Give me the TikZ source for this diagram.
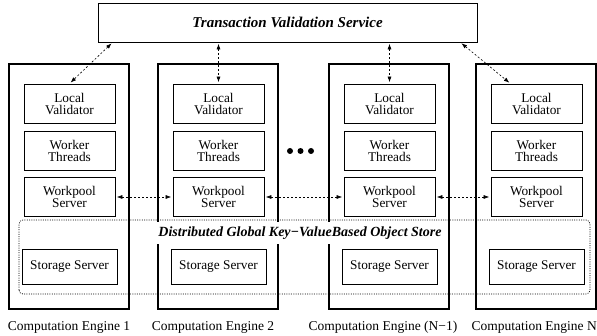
\documentclass[tikz,border=0pt]{standalone}
\usepackage{fontspec}
\setmainfont{Liberation Serif}
\usetikzlibrary{arrows.meta}
\begin{document}
\begin{tikzpicture}[x=1pt,y=1pt,
  engine/.style={draw,line width=1.3pt,minimum width=120pt,minimum height=245pt,inner sep=0pt},
  inbox/.style={draw,line width=0.7pt,minimum width=91pt,minimum height=39pt,inner sep=0pt,align=center,font=\fontsize{13.3}{12}\selectfont},
  stbox/.style={draw,line width=0.7pt,minimum width=95pt,minimum height=35pt,inner sep=0pt,align=center,font=\fontsize{13.3}{12}\selectfont},
  conn/.style={dashed,dash pattern=on 2pt off 2pt,line width=0.6pt,{Latex[length=5.5pt,width=4pt]}-{Latex[length=5.5pt,width=4pt]},shorten <=1.5pt,shorten >=1.5pt},
  caption/.style={font=\fontsize{13.5}{14}\selectfont,inner sep=0pt},
  dot/.style={circle,fill,inner sep=0pt,minimum size=6pt}
]
\useasboundingbox (0,0) rectangle (597,335);
% top service
\node[draw,line width=0.7pt,minimum width=379pt,minimum height=39pt,inner sep=0pt,font=\fontsize{15}{16}\selectfont\bfseries\itshape] (tv) at (287.5,312.5) {Transaction Validation Service};
% engines
\foreach \n/\L in {1/9,2/158,3/329,4/476}{
  \node[engine] (e\n) at (\L+60,148.5) {};
  \node[inbox] (lv\n) at (\L+60.5,231.5) {Local\\Validator};
  \node[inbox] (wt\n) at (\L+60.5,184.5) {Worker\\Threads};
  \node[inbox] (wp\n) at (\L+60.5,138) {Workpool\\Server};
  \node[stbox] (ss\n) at (\L+60.5,68.5) {Storage Server};
}
% object store label and dotted region
\node[fill=white,inner xsep=1pt,inner ysep=0pt,minimum height=21pt,font=\fontsize{14}{16}\selectfont\bfseries\itshape] (ds) at (300,102) {Distributed Global Key\textminus ValueBased Object Store};
\draw[line width=0.7pt,dash pattern=on 1pt off 1.3pt,rounded corners=4pt] (19,41) rectangle (590,115);
% dots
\node[dot] (d1) at (290,184) {};
\node[dot] (d2) at (300.5,184) {};
\node[dot] (d3) at (311,184) {};
% connectors to validation service
\coordinate (t1) at ([xshift=15pt]tv.south west);
\coordinate (t4) at ([xshift=-17pt]tv.south east);
\draw[conn] (t1) -- (lv1.north);
\draw[conn] (lv2.north |- tv.south) -- (lv2.north);
\draw[conn] (lv3.north |- tv.south) -- (lv3.north);
\draw[conn] (t4) -- ([xshift=-26pt]lv4.north);
% workpool connectors
\draw[conn] (wp1.east) -- (wp2.west);
\draw[conn] (wp2.east) -- (wp3.west);
\draw[conn] (wp3.east) -- (wp4.west);
% captions
\node[caption] (c1) at (69,8) {Computation Engine 1};
\node[caption] (c2) at (213,8) {Computation Engine 2};
\node[caption] (c3) at (383,8) {Computation Engine (N\textminus1)};
\node[caption,anchor=east] (c4) at (597,8) {Computation Engine N};
\end{tikzpicture}
\end{document}
